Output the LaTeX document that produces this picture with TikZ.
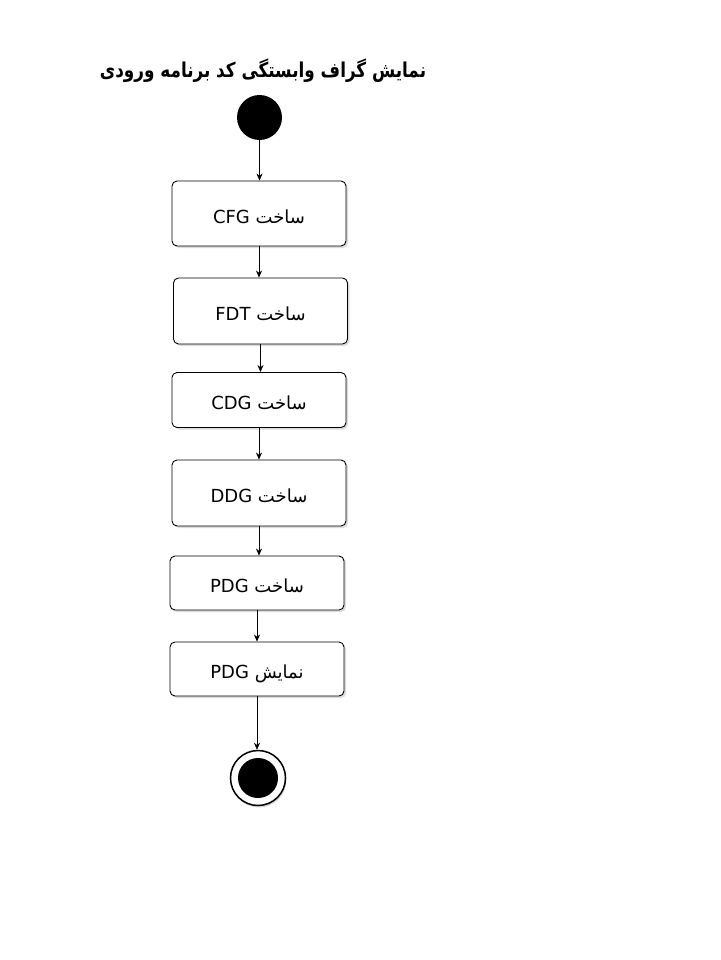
\documentclass[tikz,border=0pt]{standalone}
\usepackage{fontspec}
\setmainfont{DejaVu Sans}
\newfontfamily\arabicfont[Script=Arabic]{DejaVu Sans}
\TeXXeTstate=1
\usetikzlibrary{arrows.meta,shadows}
\newcommand{\faL}[2]{\arabicfont\beginR #1 \beginL #2\endL\endR}
\begin{document}
\begin{tikzpicture}[x=1pt,y=-1pt,font=\fontsize{18}{21}\selectfont,
  stepbox/.style={draw,rounded corners=5pt,fill=white,line width=0.9pt,minimum width=174pt,minimum height=#1,
    text height=19pt,text depth=0pt,
    drop shadow={shadow xshift=2pt,shadow yshift=-2pt,fill=gray!55}},
  flow/.style={-{Stealth[length=7pt,width=6pt]},line width=0.6pt}]
\useasboundingbox (0,0) rectangle (720,960);
\node[font=\fontsize{20.5}{24}\selectfont\bfseries] (title) at (263,71) {\scalebox{0.82}[1]{\arabicfont\beginR نمایش گراف وابستگی کد برنامه ورودی\endR}};
\node[circle,fill=black,minimum size=45pt,inner sep=0pt] (start) at (259.5,117.5) {};
\node[stepbox=65pt] (cfg) at (259,213.5) {\faL{ساخت}{CFG}};
\node[stepbox=66pt] (fdt) at (260.5,311) {\faL{ساخت}{FDT}};
\node[stepbox=55pt] (cdg) at (259,400) {\faL{ساخت}{CDG}};
\node[stepbox=66pt] (ddg) at (259,493) {\faL{ساخت}{DDG}};
\node[stepbox=54pt] (pdg) at (257,583) {\faL{ساخت}{PDG}};
\node[stepbox=54pt] (show) at (257,669) {\faL{نمایش}{PDG}};
\node[circle,draw,line width=1.5pt,fill=white,minimum size=55pt,inner sep=0pt,
  drop shadow={shadow xshift=1pt,shadow yshift=-2pt,fill=gray!60}] (end) at (258,778) {};
\fill (end) circle (20pt);
\draw[flow] (start.south) -- (start.south |- cfg.north);
\foreach \a/\b in {cfg/fdt,fdt/cdg,cdg/ddg,ddg/pdg,pdg/show,show/end}
  \draw[flow] (\a.south) -- (\a.south |- \b.north);
\end{tikzpicture}
\end{document}
